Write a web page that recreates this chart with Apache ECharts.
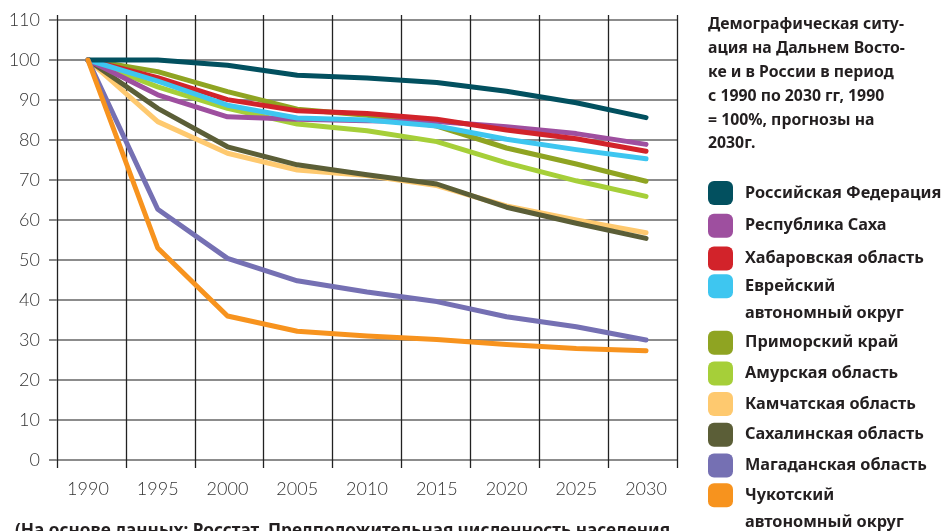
<!DOCTYPE html>
<html>
<head>
<meta charset="utf-8">
<script src="https://cdn.jsdelivr.net/npm/echarts@6.0.0/dist/echarts.min.js"></script>
<style>
html,body{margin:0;padding:0;background:#fff;}
#chart{width:946px;height:531px;}
</style>
</head>
<body>
<div id="chart"></div>
<script>
const years = [1990, 1995, 2000, 2005, 2010, 2015, 2020, 2025, 2030];
const yTicks = [0, 10, 20, 30, 40, 50, 60, 70, 80, 90, 100, 110];

const seriesNames = [
  'Российская Федерация',
  'Республика Саха',
  'Хабаровская область',
  'Еврейский автономный округ',
  'Приморский край',
  'Амурская область',
  'Камчатская область',
  'Сахалинская область',
  'Магаданская область',
  'Чукотский автономный округ'
];

const russia      = [100, 100.0, 98.7, 96.2, 95.5, 94.4, 92.2, 89.3, 85.6];
const sakha       = [100, 91.3, 85.8, 85.2, 84.8, 84.6, 83.3, 81.6, 78.9];
const khabarovsk  = [100, 95.6, 90.1, 87.3, 86.6, 85.2, 82.5, 80.3, 77.2];
const jewish      = [100, 94.7, 88.7, 85.5, 85.0, 83.5, 80.2, 77.6, 75.3];
const primorsky   = [100, 97.1, 92.1, 87.7, 86.2, 83.5, 78.0, 74.0, 69.7];
const amur        = [100, 93.3, 87.9, 84.0, 82.3, 79.6, 74.3, 69.8, 65.9];
const kamchatka   = [100, 84.6, 76.7, 72.5, 71.1, 68.6, 63.5, 60.0, 56.8];
const sakhalin    = [100, 87.9, 78.3, 73.8, 71.3, 69.0, 63.2, 59.2, 55.4];
const magadan     = [100, 62.7, 50.4, 44.8, 42.0, 39.6, 35.8, 33.3, 30.0];
const chukotka    = [100, 53.0, 36.0, 32.2, 31.0, 30.1, 28.9, 27.9, 27.3];

const seriesValues = [russia, sakha, khabarovsk, jewish, primorsky, amur, kamchatka, sakhalin, magadan, chukotka];
const colors = ['#02505f', '#9e4f9f', '#d2232a', '#3ec6f0', '#8fa422', '#a6cf39', '#fec96f', '#5b5e37', '#7570b3', '#f7931e'];
// drawing order (later on top)
const drawOrder = [6, 7, 5, 4, 1, 2, 3, 0, 8, 9];

// legend blocks: indices of names and the top of the first icon
const legendBlocks = [
  {items: [0, 1, 2], iconTop: 181, gap: 6},
  {items: [3], iconTop: 274.3, gap: 4},
  {items: [4, 5, 6, 7, 8], iconTop: 330.7, gap: 4},
  {items: [9], iconTop: 483.3, gap: 4}
];

const titleText = 'Демографическая ситу-\nация на Дальнем Восто-\nке и в России в период\nс 1990 по 2030 гг, 1990\n= 100%, прогнозы на\n2030г.';
const noteText = '(На основе данных: Росстат. Предположительная численность населения';

const chart = echarts.init(document.getElementById('chart'), null, {renderer: 'canvas'});

const boldFont = 'Noto Sans';
const LH = 26.7;
const ICON_H = 24;

const legends = legendBlocks.map(function (b) {
  const twoLine = seriesNames[b.items[0]].indexOf('автономный') >= 0;
  // two-line names get a blank first line so the first real line sits beside the icon
  const offset = twoLine ? (ICON_H / 2 - 1.5 * LH) : (ICON_H / 2 - LH / 2);
  return {
    orient: 'vertical',
    left: 708, top: b.iconTop + offset,
    padding: 0,
    itemWidth: 25, itemHeight: ICON_H,
    itemGap: b.gap,
    icon: 'roundRect',
    selectedMode: false,
    formatter: function (n) {
      return n.indexOf(' автономный') >= 0 ? '\u00a0\n' + n.replace(' автономный', '\nавтономный') : n;
    },
    textStyle: {
      fontFamily: boldFont, fontWeight: 'bold', fontSize: 16.3, lineHeight: LH, color: '#231f20',
      padding: [0, 0, 0, 7]
    },
    data: b.items.map(function (i) { return seriesNames[i]; })
  };
});

const option = {
  animation: false,
  title: [
    {
      text: titleText,
      left: 708, top: 13,
      padding: 0,
      textStyle: {fontFamily: boldFont, fontWeight: 'bold', fontSize: 15.8, lineHeight: 23.8, color: '#231f20'}
    },
    {
      text: noteText,
      left: 15, top: 521,
      padding: 0,
      textStyle: {fontFamily: boldFont, fontWeight: 'bold', fontSize: 17.2, lineHeight: 20, color: '#231f20'}
    }
  ],
  legend: legends,
  grid: {left: 57, right: 269, top: 20, bottom: 71, containLabel: false},
  xAxis: [
    {
      type: 'value',
      min: 1987.78, max: 2032.22,
      position: 'bottom',
      axisLine: {show: false},
      axisTick: {show: false},
      splitLine: {show: false},
      axisLabel: {
        customValues: years,
        formatter: function (v) { return String(v); },
        margin: 20,
        fontFamily: 'Lato', fontWeight: 300, fontSize: 18, color: '#333'
      }
    },
    {
      type: 'category',
      data: years.map(String),
      boundaryGap: true,
      position: 'bottom',
      axisLine: {show: false},
      axisTick: {show: true, length: 8, lineStyle: {color: '#222', width: 1.3}},
      axisLabel: {show: false},
      splitLine: {show: true, lineStyle: {color: '#222', width: 1.3}}
    },
    {
      type: 'category',
      data: years.map(String),
      boundaryGap: true,
      position: 'top',
      axisLine: {show: false},
      axisTick: {show: true, length: 5, lineStyle: {color: '#222', width: 1.3}},
      axisLabel: {show: false},
      splitLine: {show: false}
    }
  ],
  yAxis: {
    type: 'value',
    min: yTicks[0], max: yTicks[yTicks.length - 1], interval: 10,
    axisLine: {show: false},
    axisTick: {show: true, length: 8, lineStyle: {color: '#8c8c8c', width: 2}},
    splitLine: {show: true, lineStyle: {color: '#8c8c8c', width: 2}},
    axisLabel: {margin: 17, fontFamily: 'Lato', fontWeight: 300, fontSize: 18, color: '#333'}
  },
  series: drawOrder.map(function (i) {
    return {
      name: seriesNames[i],
      type: 'line',
      xAxisIndex: 0,
      symbol: 'none',
      color: colors[i],
      lineStyle: {width: 5, color: colors[i], cap: 'round', join: 'round'},
      data: years.map(function (y, k) { return [y, seriesValues[i][k]]; }),
      z: 3
    };
  })
};

chart.setOption(option);
</script>
</body>
</html>
